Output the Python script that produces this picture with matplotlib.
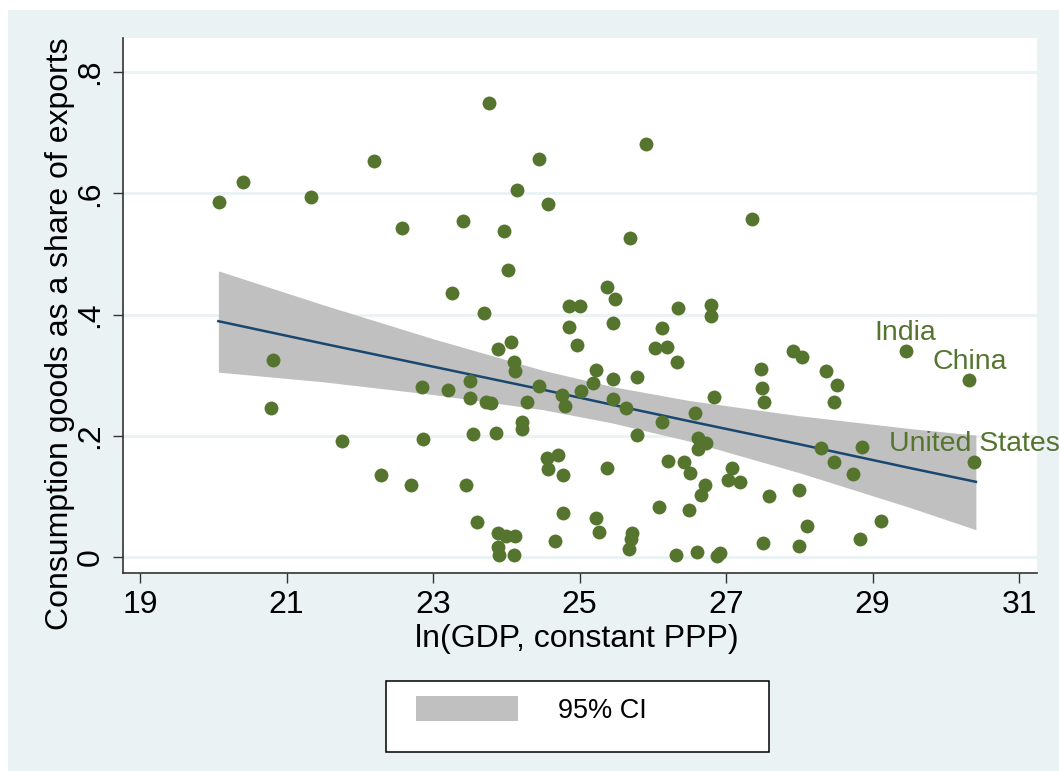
import matplotlib
matplotlib.use("Agg")
import matplotlib.pyplot as plt
from matplotlib.patches import Patch, Rectangle

plt.rcParams["font.family"] = ["Liberation Sans", "DejaVu Sans"]

# scatter: ln(GDP) vs consumption-goods share of exports
gdp = [20.08, 20.40, 21.33, 22.19, 22.57,
       23.76, 25.91, 24.44, 24.14, 24.57, 23.41, 23.97, 25.69, 24.02, 23.26,
       23.69, 24.86, 25.00, 25.38, 25.48, 26.35, 26.80, 26.80, 27.35,
       20.81, 20.79, 21.76, 22.29, 22.70, 22.85, 22.86,
       24.86, 25.45, 26.13, 23.89, 24.07, 24.97, 26.03, 26.20, 26.33, 24.11,
       24.12, 25.23, 25.45, 25.79, 25.18, 23.50, 23.20, 24.45, 24.76, 25.02,
       23.50, 23.72, 23.79, 24.28, 24.80, 25.45, 25.64, 26.13, 26.58, 26.83,
       24.21, 24.21, 23.54, 23.86, 25.79, 26.62, 26.73, 26.61, 24.56, 24.71,
       24.57, 24.78, 25.38, 26.21, 26.42, 26.51, 27.08, 27.03, 27.19, 23.45,
       26.71, 26.66, 23.60, 24.78, 26.09, 26.49, 25.22, 25.26, 23.88, 23.99,
       24.12, 24.67, 25.71, 25.70, 25.68, 23.88, 23.90, 24.10, 26.31, 26.60,
       26.88, 26.92,
       27.92, 28.03, 27.48, 27.49, 27.52, 28.36, 28.52, 28.47, 28.30, 28.86,
       28.47, 28.73, 27.59, 28.00, 28.10, 29.12, 27.51, 27.99, 28.83,
       29.45, 30.32, 30.39]
share = [0.585, 0.619, 0.594, 0.654, 0.543,
         0.749, 0.681, 0.656, 0.606, 0.582, 0.554, 0.538, 0.527, 0.473, 0.436,
         0.402, 0.414, 0.414, 0.446, 0.426, 0.410, 0.416, 0.398, 0.558,
         0.325, 0.245, 0.192, 0.135, 0.118, 0.281, 0.194,
         0.380, 0.386, 0.378, 0.343, 0.354, 0.350, 0.345, 0.347, 0.322, 0.321,
         0.306, 0.308, 0.294, 0.297, 0.287, 0.291, 0.275, 0.282, 0.268, 0.273,
         0.262, 0.255, 0.254, 0.256, 0.249, 0.260, 0.246, 0.223, 0.237, 0.264,
         0.222, 0.211, 0.203, 0.204, 0.202, 0.197, 0.188, 0.178, 0.163, 0.168,
         0.145, 0.136, 0.146, 0.158, 0.157, 0.138, 0.146, 0.127, 0.124, 0.118,
         0.118, 0.103, 0.058, 0.073, 0.082, 0.078, 0.064, 0.042, 0.039, 0.035,
         0.035, 0.027, 0.040, 0.030, 0.013, 0.016, 0.004, 0.004, 0.003, 0.009,
         0.002, 0.006,
         0.340, 0.330, 0.310, 0.279, 0.255, 0.306, 0.283, 0.255, 0.180, 0.182,
         0.157, 0.137, 0.100, 0.110, 0.051, 0.060, 0.023, 0.018, 0.030,
         0.339, 0.292, 0.156]

# labelled countries
lab_names = ["India", "China", "United States"]
lab_x = [29.45, 30.32, 30.39]
lab_y = [0.339, 0.292, 0.156]

# fitted line and 95% CI band
fit_x = [20.07, 21.5, 23.0, 24.5, 25.45, 26.5, 28.0, 29.5, 30.41]
fit_y = [0.389, 0.352, 0.314, 0.276, 0.251, 0.224, 0.186, 0.147, 0.124]
ci_hi = [0.472, 0.416, 0.360, 0.308, 0.281, 0.258, 0.233, 0.212, 0.201]
ci_lo = [0.305, 0.289, 0.268, 0.243, 0.221, 0.191, 0.139, 0.082, 0.045]

xticks = [19, 21, 23, 25, 27, 29, 31]
yticks = [0, 0.2, 0.4, 0.6, 0.8]
ytick_labels = ["0", ".2", ".4", ".6", ".8"]

BG = "#EAF2F3"
GREEN = "#55752F"
NAVY = "#1A476F"
GRAY = "#C0C0C0"

W, H = 1059, 771
fig = plt.figure(figsize=(W / 100, H / 100), dpi=100)
fig.patch.set_facecolor("white")
fig.patches.append(Rectangle((8 / W, 0), 1, 1 - 10 / H, transform=fig.transFigure,
                             facecolor=BG, edgecolor="none", zorder=-10))

ax = fig.add_axes([122.7 / W, 1 - 573 / H, 914 / W, 535.3 / H])
ax.set_facecolor("white")

ax.fill_between(fit_x, ci_lo, ci_hi, color=GRAY, lw=0, zorder=1)
ax.plot(fit_x, fit_y, color=NAVY, lw=1.8, zorder=2)
ax.scatter(gdp, share, s=100, color=GREEN, linewidths=0, zorder=3)

for name, x, y in zip(lab_names, lab_x, lab_y):
    ax.annotate(name, (x, y), xytext=(0, 8), textcoords="offset points",
                ha="center", va="baseline", fontsize=20.5, color=GREEN,
                annotation_clip=False, zorder=4)

ax.set_xlim(18.764, 31.24)
ax.set_ylim(-0.0264, 0.8566)
ax.set_xticks(xticks)
ax.set_yticks(yticks)
ax.set_yticklabels(ytick_labels)
ax.grid(axis="y", color=BG, lw=2.0, zorder=0)
ax.set_axisbelow(True)

for side in ("top", "right"):
    ax.spines[side].set_visible(False)
for side in ("left", "bottom"):
    ax.spines[side].set_color("#333333")
    ax.spines[side].set_linewidth(1.2)

ax.tick_params(axis="both", direction="out", length=7.5, width=1.0,
               color="#333333", labelsize=23, pad=5)
for lbl in ax.get_yticklabels():
    lbl.set_rotation(90)
    lbl.set_va("center")

ax.set_xlabel("ln(GDP, constant PPP)", fontsize=23)
ax.xaxis.set_label_coords(0.4965, -0.0953)
ax.set_ylabel("Consumption goods as a share of exports", fontsize=23)
ax.yaxis.set_label_coords(-0.0522, 0.4465)

# legend box
fig.patches.append(Rectangle((386 / W, 1 - 752.3 / H), 383 / W, 71.6 / H,
                             transform=fig.transFigure, facecolor="white",
                             edgecolor="black", lw=1.1, zorder=1))
leg = fig.legend(handles=[Patch(facecolor=GRAY, edgecolor="none", label="95% CI")],
                 loc="center left", bbox_to_anchor=(416 / W, 1 - 710 / H),
                 frameon=False, fontsize=19.5, borderpad=0, borderaxespad=0,
                 handlelength=3.77, handleheight=1.07, handletextpad=1.48)
leg.set_zorder(5)

fig.savefig("out.png", dpi=100, facecolor=fig.get_facecolor())
